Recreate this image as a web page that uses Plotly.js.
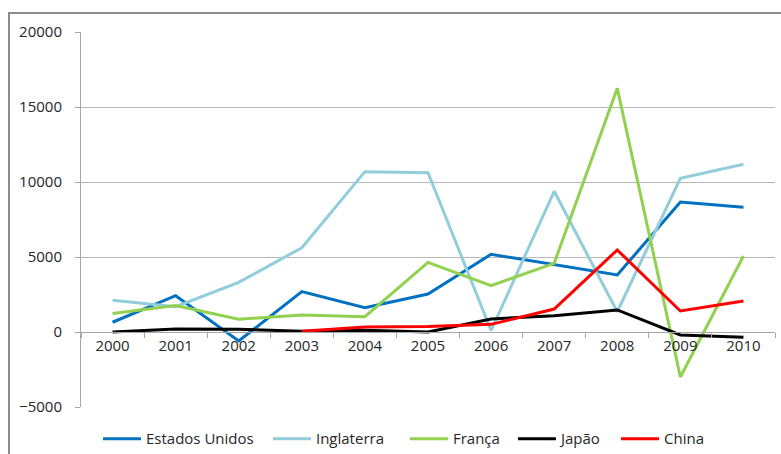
<!DOCTYPE html>
<html>
<head>
<meta charset="utf-8">
<script src="https://cdn.plot.ly/plotly-3.0.1.min.js"></script>
<style>
  html, body { margin: 0; padding: 0; background: #fff; }
  #frame { position: absolute; left: 8px; top: 12px; width: 800px; height: 460px;
           border-left: 2px solid #8c8c8c; border-top: 2px solid #8c8c8c; }
  #chart { position: absolute; left: 0; top: 0; width: 781px; height: 454px; }
</style>
</head>
<body>
<div id="frame"></div>
<div id="chart"></div>
<script>
const years = ['2000','2001','2002','2003','2004','2005','2006','2007','2008','2009','2010'];
const estadosUnidos = [650, 2420, -600, 2690, 1620, 2530, 5180, 4470, 3800, 8660, 8310];
const inglaterra = [2110, 1690, 3310, 5620, 10690, 10620, 100, 9380, 1350, 10240, 11180];
const franca = [1240, 1760, 850, 1130, 1020, 4640, 3090, 4580, 16250, -3000, 5070];
const japao = [0, 200, 180, 50, 110, 0, 870, 1090, 1470, -200, -350];
const china = [null, null, null, 50, 330, 360, 510, 1530, 5470, 1400, 2070];

const seriesNames = ['Estados Unidos', 'Inglaterra', 'França', 'Japão', 'China'];
const seriesValues = [estadosUnidos, inglaterra, franca, japao, china];
const seriesColors = ['#0070C0', '#92CDDC', '#92D050', '#000000', '#FF0000'];

const legendIds = ['legend', 'legend2', 'legend3', 'legend4', 'legend5'];
const legendX = [0.0245, 0.2694, 0.4668, 0.6224, 0.7709];

const traces = seriesNames.map((n, i) => ({
  type: 'scatter', mode: 'lines', name: n, x: years, y: seriesValues[i],
  line: { color: seriesColors[i], width: 3 }, connectgaps: false,
  legend: legendIds[i]
}));

const font = { family: "'Open Sans', sans-serif", size: 15, color: '#262626' };

const layout = {
  width: 781, height: 454,
  margin: { l: 81, r: 6, t: 32, b: 47, autoexpand: false },
  paper_bgcolor: 'rgba(0,0,0,0)', plot_bgcolor: 'rgba(0,0,0,0)',
  font: font,
  showlegend: true,
  xaxis: {
    type: 'category', anchor: 'free', position: 0.2,
    showline: true, linecolor: '#a6a6a6', linewidth: 1,
    ticks: 'outside', tickson: 'boundaries', ticklen: 5, tickcolor: '#a6a6a6',
    showgrid: false, tickfont: font, range: [-0.5, 10.5]
  },
  yaxis: {
    range: [-5000, 20000], dtick: 5000, tick0: 0, tickformat: 'd',
    showline: true, linecolor: '#a6a6a6', linewidth: 1,
    ticks: 'outside', ticklen: 5, tickcolor: '#a6a6a6',
    showgrid: true, gridcolor: '#b8b8b8', gridwidth: 1,
    zeroline: false, tickfont: font, ticklabelstandoff: 10
  }
};
legendIds.forEach((id, i) => {
  layout[id] = { orientation: 'h', x: legendX[i], xanchor: 'left', y: -0.085, yanchor: 'middle',
                 font: font, itemwidth: 38, bgcolor: 'rgba(0,0,0,0)' };
});

Plotly.newPlot('chart', traces, layout, { displayModeBar: false, staticPlot: true });
</script>
</body>
</html>
